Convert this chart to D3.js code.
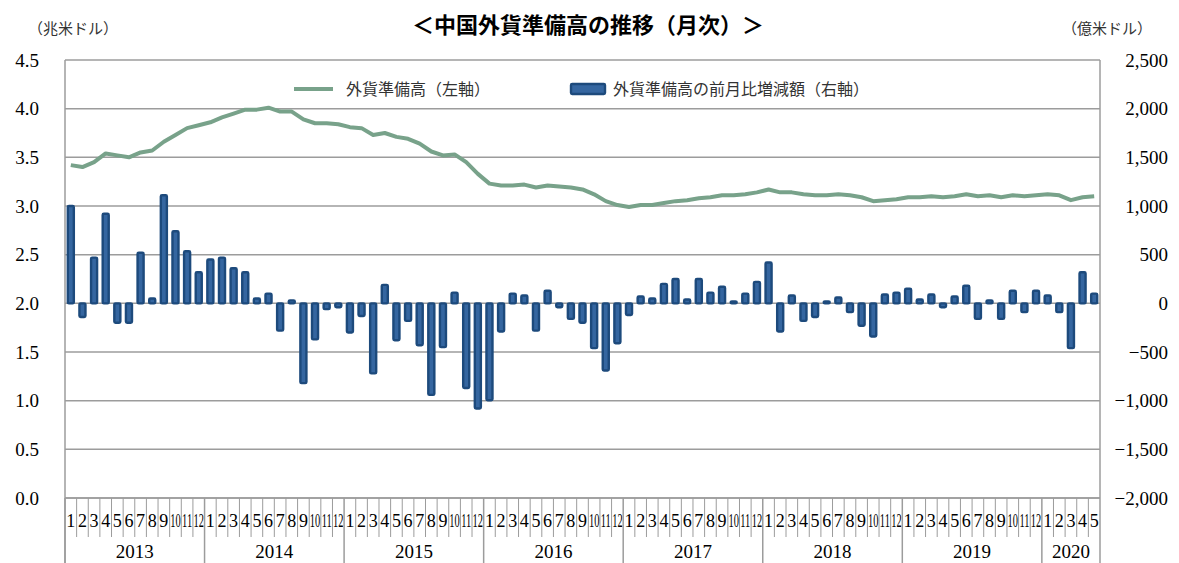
<!DOCTYPE html>
<html>
<head>
<meta charset="utf-8">
<script src="https://cdn.jsdelivr.net/npm/d3@7"></script>
<style>
    body { margin: 0; background: #fff; }
    svg { display: block; }
</style>
</head>
<body>
<div id="chart"></div>
<script>
// Years and months on the x axis (Jan 2013 - May 2020)
const years = ["2013", "2014", "2015", "2016", "2017", "2018", "2019", "2020"];
const monthsPerYear = [12, 12, 12, 12, 12, 12, 12, 5];

// 外貨準備高 (兆米ドル), left axis
const reserves = [
    3.42, 3.40, 3.45, 3.54, 3.52, 3.50, 3.55, 3.57, 3.66, 3.73, 3.80, 3.83,
    3.86, 3.91, 3.95, 3.99, 3.99, 4.01, 3.97, 3.97, 3.89, 3.85, 3.85, 3.84,
    3.81, 3.80, 3.73, 3.75, 3.71, 3.69, 3.64, 3.56, 3.52, 3.53, 3.45, 3.33,
    3.23, 3.21, 3.21, 3.22, 3.19, 3.21, 3.20, 3.19, 3.17, 3.12, 3.05, 3.01,
    2.99, 3.01, 3.01, 3.03, 3.05, 3.06, 3.08, 3.09, 3.11, 3.11, 3.12, 3.14,
    3.17, 3.14, 3.14, 3.12, 3.11, 3.11, 3.12, 3.11, 3.09, 3.05, 3.06, 3.07,
    3.09, 3.09, 3.10, 3.09, 3.10, 3.12, 3.10, 3.11, 3.09, 3.11, 3.10, 3.11,
    3.12, 3.11, 3.06, 3.09, 3.10
];

// 前月比増減額 (億米ドル), right axis
const changes = [
    1000, -140, 470, 920, -200, -200, 520, 50, 1110, 740, 535, 320,
    450, 470, 360, 320, 50, 100, -280, 30, -820, -370, -60, -40,
    -300, -130, -720, 190, -380, -180, -430, -940, -450, 110, -870, -1080,
    -995, -290, 100, 80, -280, 130, -40, -160, -200, -460, -690, -410,
    -120, 70, 50, 200, 250, 40, 250, 110, 170, 20, 100, 220,
    420, -290, 80, -180, -140, 20, 60, -90, -230, -340, 90, 110,
    150, 40, 90, -40, 70, 180, -160, 30, -160, 130, -90, 130,
    80, -90, -460, 320, 100
];

// Tick labels
const leftTicks = [0, 0.5, 1.0, 1.5, 2.0, 2.5, 3.0, 3.5, 4.0, 4.5];
const rightTicks = [-2000, -1500, -1000, -500, 0, 500, 1000, 1500, 2000, 2500];

const title = "＜中国外貨準備高の推移（月次）＞";
const legendLabels = ["外貨準備高（左軸）", "外貨準備高の前月比増減額（右軸）"];

// Build month list
const months = [];
years.forEach((yr, yi) => {
    for (let m = 1; m <= monthsPerYear[yi]; m++) {
        months.push({ year: yr, month: m, index: months.length });
    }
});

// Canvas
const width = 1179;
const height = 563;
const plot = { left: 65, right: 1100, top: 60, bottom: 498 };

const svg = d3.select("#chart")
    .append("svg")
    .attr("width", width)
    .attr("height", height);

const serif = "'Liberation Serif', 'DejaVu Serif', serif";
const jp = "'Noto Sans CJK JP', sans-serif";
const gridColor = "#9c9c9c";

// Scales
const x = d3.scaleBand()
    .domain(months.map(d => d.index))
    .range([plot.left, plot.right])
    .paddingInner(0.48)
    .paddingOuter(0.24);

const slot = d3.scaleBand()
    .domain(months.map(d => d.index))
    .range([plot.left, plot.right]);

const yLeft = d3.scaleLinear()
    .domain([0, 4.5])
    .range([plot.bottom, plot.top]);

const yRight = d3.scaleLinear()
    .domain([-2000, 2500])
    .range([plot.bottom, plot.top]);

// Gridlines
svg.append("g")
    .selectAll("line")
    .data(leftTicks)
    .enter().append("line")
    .attr("x1", plot.left)
    .attr("x2", plot.right)
    .attr("y1", d => yLeft(d))
    .attr("y2", d => yLeft(d))
    .attr("stroke", gridColor)
    .attr("stroke-width", 1.5);

// Left axis labels
svg.append("g")
    .selectAll("text")
    .data(leftTicks)
    .enter().append("text")
    .attr("x", 39)
    .attr("y", d => yLeft(d))
    .attr("dy", "0.35em")
    .attr("text-anchor", "end")
    .attr("font-family", serif)
    .attr("font-size", 19)
    .text(d => d3.format(".1f")(d));

// Right axis labels
svg.append("g")
    .selectAll("text")
    .data(rightTicks)
    .enter().append("text")
    .attr("x", 1168)
    .attr("y", d => yRight(d))
    .attr("dy", "0.35em")
    .attr("text-anchor", "end")
    .attr("font-family", serif)
    .attr("font-size", 19)
    .text(d => d3.format(",")(d));

// Bars (right axis)
svg.append("g")
    .selectAll("rect")
    .data(months)
    .enter().append("rect")
    .attr("x", d => x(d.index))
    .attr("width", x.bandwidth())
    .attr("y", d => yRight(Math.max(0, changes[d.index])))
    .attr("height", d => Math.abs(yRight(changes[d.index]) - yRight(0)))
    .attr("rx", 1.2)
    .attr("fill", "#3566a0")
    .attr("stroke", "#1d4a7c")
    .attr("stroke-width", 2.4);

// Line (left axis)
const line = d3.line()
    .x(d => slot(d.index) + slot.bandwidth() / 2)
    .y(d => yLeft(reserves[d.index]));

svg.append("path")
    .datum(months)
    .attr("d", line)
    .attr("fill", "none")
    .attr("stroke", "#78a28a")
    .attr("stroke-width", 4)
    .attr("stroke-linejoin", "round");

// Month separators and labels under the axis
const monthRow = 537;
svg.append("g")
    .selectAll("line")
    .data(months.filter(d => d.month !== 1))
    .enter().append("line")
    .attr("x1", d => slot(d.index))
    .attr("x2", d => slot(d.index))
    .attr("y1", plot.bottom)
    .attr("y2", monthRow)
    .attr("stroke", gridColor)
    .attr("stroke-width", 1);

// month labels: narrow the glyphs horizontally so each fits in its slot
svg.append("g")
    .selectAll("text")
    .data(months)
    .enter().append("text")
    .attr("transform", d => {
        const cx = slot(d.index) + slot.bandwidth() / 2;
        const sx = d.month >= 10 ? 0.55 : 0.95;
        return `translate(${cx},527) scale(${sx},1)`;
    })
    .attr("text-anchor", "middle")
    .attr("font-family", serif)
    .attr("font-size", 19)
    .text(d => d.month);

// Year separators and labels
const yearStarts = months.filter(d => d.month === 1);
svg.append("g")
    .selectAll("line")
    .data(yearStarts)
    .enter().append("line")
    .attr("x1", d => slot(d.index))
    .attr("x2", d => slot(d.index))
    .attr("y1", plot.bottom)
    .attr("y2", height)
    .attr("stroke", gridColor)
    .attr("stroke-width", 1.5);

svg.append("g")
    .selectAll("text")
    .data(years)
    .enter().append("text")
    .attr("x", (d, i) => {
        const first = yearStarts[i].index;
        const last = first + monthsPerYear[i] - 1;
        return (slot(first) + slot(last) + slot.bandwidth()) / 2;
    })
    .attr("y", 558)
    .attr("text-anchor", "middle")
    .attr("font-family", serif)
    .attr("font-size", 19)
    .text(d => d);

// Plot borders (left / right / bottom)
svg.append("line")
    .attr("x1", plot.left).attr("x2", plot.left)
    .attr("y1", plot.top).attr("y2", height)
    .attr("stroke", gridColor).attr("stroke-width", 1.5);
svg.append("line")
    .attr("x1", plot.right).attr("x2", plot.right)
    .attr("y1", plot.top).attr("y2", height)
    .attr("stroke", gridColor).attr("stroke-width", 1.5);
svg.append("line")
    .attr("x1", plot.left).attr("x2", plot.right)
    .attr("y1", plot.bottom).attr("y2", plot.bottom)
    .attr("stroke", gridColor).attr("stroke-width", 1.5);

// Title and unit labels
svg.append("text")
    .attr("x", 588)
    .attr("y", 33)
    .attr("text-anchor", "middle")
    .attr("font-family", jp)
    .attr("font-weight", "bold")
    .attr("font-size", 22)
    .text(title);

svg.append("text")
    .attr("x", 28)
    .attr("y", 34)
    .attr("font-family", jp)
    .attr("font-size", 15)
    .attr("fill", "#333")
    .text("（兆米ドル）");

svg.append("text")
    .attr("x", 1152)
    .attr("y", 34)
    .attr("text-anchor", "end")
    .attr("font-family", jp)
    .attr("font-size", 15)
    .attr("fill", "#333")
    .text("（億米ドル）");

// Legend
const legend = svg.append("g")
    .attr("font-family", jp)
    .attr("font-size", 16)
    .attr("fill", "#333");

legend.append("line")
    .attr("x1", 294).attr("x2", 333)
    .attr("y1", 89).attr("y2", 89)
    .attr("stroke", "#78a28a")
    .attr("stroke-width", 4);

legend.append("text")
    .attr("x", 346)
    .attr("y", 89)
    .attr("dy", "0.35em")
    .text(legendLabels[0]);

legend.append("rect")
    .attr("x", 571).attr("y", 84)
    .attr("width", 34).attr("height", 10)
    .attr("rx", 1.2)
    .attr("fill", "#3566a0")
    .attr("stroke", "#1d4a7c")
    .attr("stroke-width", 2.4);

legend.append("text")
    .attr("x", 613)
    .attr("y", 89)
    .attr("dy", "0.35em")
    .text(legendLabels[1]);
</script>
</body>
</html>
